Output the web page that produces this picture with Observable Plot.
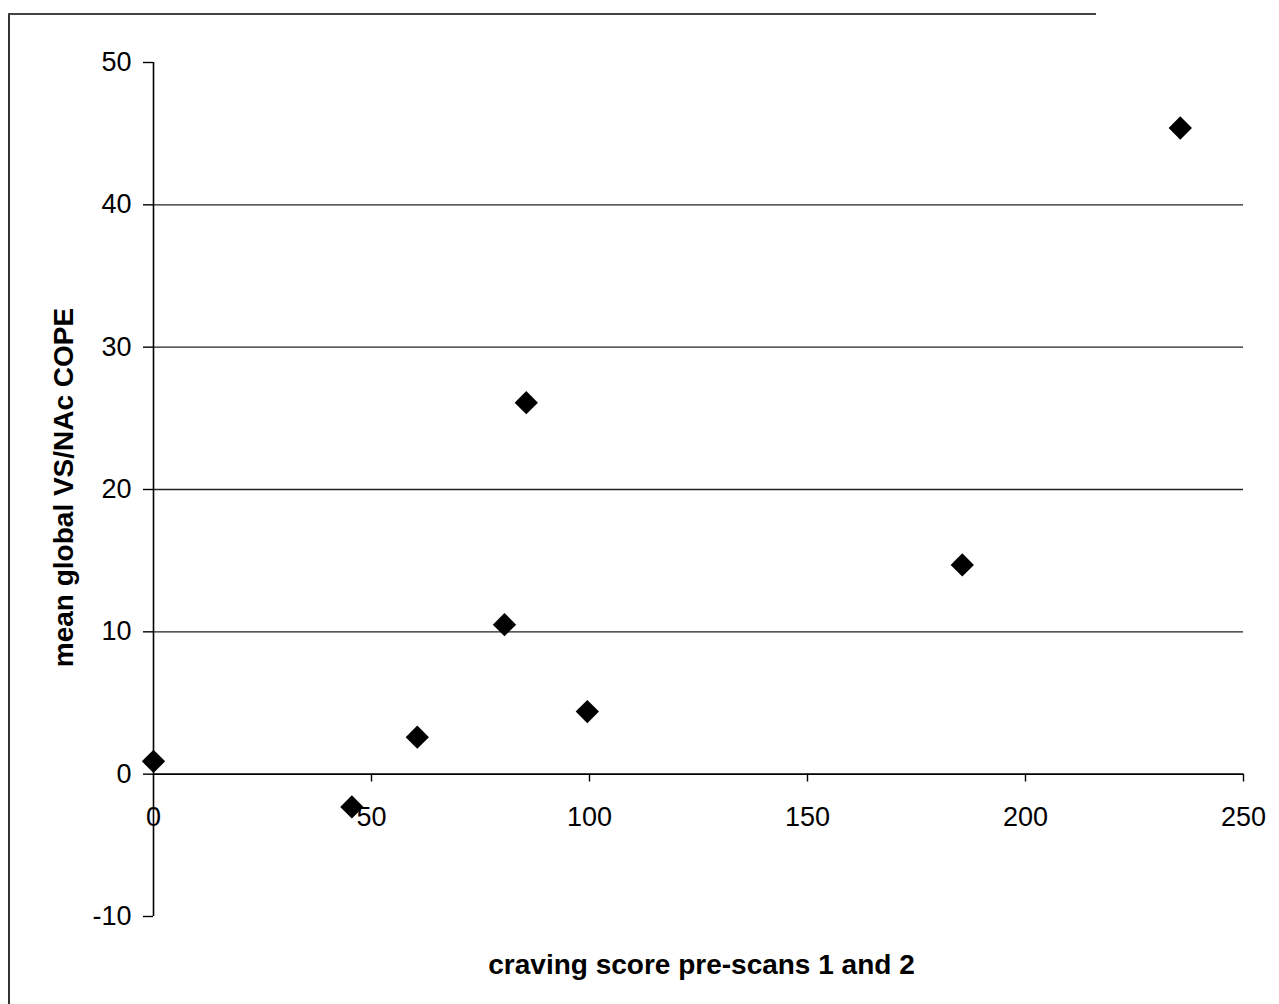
<!DOCTYPE html>
<html>
<head>
<meta charset="utf-8">
<script src="https://cdn.jsdelivr.net/npm/d3@7"></script>
<script src="https://cdn.jsdelivr.net/npm/@observablehq/plot@0.6"></script>
<style>
  html, body { margin: 0; padding: 0; background: #fff; }
  #wrap { position: relative; width: 1279px; height: 1004px; overflow: hidden; }
  #frameLeft { position: absolute; left: 8px; top: 13px; width: 2px; height: 1000px; background: #333; }
  #frameTop { position: absolute; left: 8px; top: 13px; width: 1088px; height: 2px; background: #444; }
  #chart { position: absolute; left: 0; top: 0; }
</style>
</head>
<body>
<div id="wrap">
  <div id="frameLeft"></div>
  <div id="frameTop"></div>
  <div id="chart"></div>
</div>
<script>
// Data
const cravingScore = [0, 45.5, 60.5, 80.5, 85.5, 99.5, 185.5, 235.5];
const copeValue    = [0.9, -2.3, 2.6, 10.5, 26.1, 4.4, 14.7, 45.4];
const xTicks = [0, 50, 100, 150, 200, 250];
const yTicks = [-10, 0, 10, 20, 30, 40, 50];
const gridValues = [10, 20, 30, 40];
const xLabel = "craving score pre-scans 1 and 2";
const yLabel = "mean global VS/NAc COPE";

const points = cravingScore.map((x, i) => ({x, y: copeValue[i]}));
const font = "Liberation Sans, Arial, Helvetica, sans-serif";

const chart = Plot.plot({
  width: 1279,
  height: 1004,
  marginLeft: 153,
  marginRight: 36,
  marginTop: 62,
  marginBottom: 88,
  style: {fontFamily: font, background: "transparent", color: "#000"},
  x: {domain: [0, 250], axis: null},
  y: {domain: [-10, 50]},
  marks: [
    Plot.ruleY(gridValues, {stroke: "#222", strokeWidth: 1.4}),
    Plot.axisY(yTicks, {tickSize: 10, tickPadding: 12, fontSize: 27, stroke: "#000", strokeWidth: 1.4, label: null, tickFormat: d => String(d)}),
    Plot.ruleX([0], {stroke: "#000", strokeWidth: 1.6}),
    Plot.ruleY([0], {stroke: "#000", strokeWidth: 1.6}),
    Plot.ruleX(xTicks.slice(1), {x: d => d, y1: 0, y2: -0.55, stroke: "#000", strokeWidth: 1.4}),
    Plot.text(xTicks, {x: d => d, y: 0, text: d => String(d), dy: 43, lineAnchor: "middle", fontSize: 27, fill: "#000"}),
    Plot.dot(points, {x: "x", y: "y", symbol: "diamond2", r: 10.5, fill: "#000", stroke: "none"}),
    Plot.text([xLabel], {frameAnchor: "bottom", text: d => d, textAnchor: "middle", dx: 3, dy: 49, fontSize: 28, fontWeight: "bold", lineAnchor: "middle", fill: "#000"}),
    Plot.text([yLabel], {frameAnchor: "left", text: d => d, textAnchor: "middle", rotate: -90, dx: -89, dy: -2, fontSize: 28, fontWeight: "bold", lineAnchor: "middle", fill: "#000"})
  ]
});
document.getElementById("chart").appendChild(chart);
</script>
</body>
</html>
